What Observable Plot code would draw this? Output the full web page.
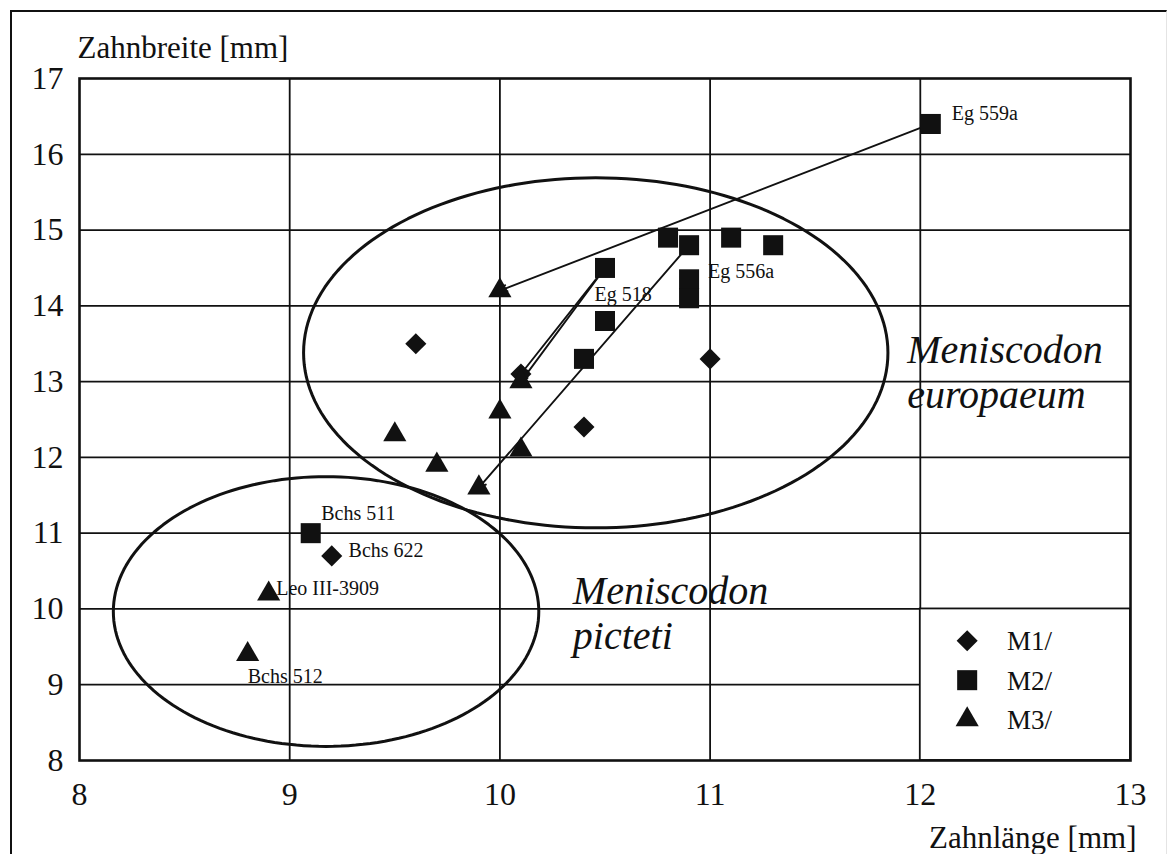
<!DOCTYPE html>
<html>
<head>
<meta charset="utf-8">
<script src="https://cdn.jsdelivr.net/npm/d3@7"></script>
<script src="https://cdn.jsdelivr.net/npm/@observablehq/plot@0.6"></script>
<style>
  html, body { margin: 0; padding: 0; background: #fff; }
  #wrap { position: relative; width: 1168px; height: 854px; overflow: hidden; }
  #border { position: absolute; left: 10px; top: 10px; width: 1154px; height: 900px;
            border-left: 2px solid #111; border-top: 2px solid #111; border-right: 1px solid #e4e4e4; }
  svg { font-family: "Liberation Serif", "Times New Roman", serif; }
</style>
</head>
<body>
<div id="wrap"><div id="border"></div></div>
<script>
// ---- Data ----
const xTicks = [8, 9, 10, 11, 12, 13];
const yTicks = [8, 9, 10, 11, 12, 13, 14, 15, 16, 17];

// Zahnlänge, Zahnbreite [mm]
const m1 = [[9.6, 13.5], [10.1, 13.1], [10.4, 12.4], [11.0, 13.3], [9.2, 10.7]];
const m2 = [[10.8, 14.9], [10.9, 14.8], [11.1, 14.9], [11.3, 14.8], [10.5, 14.5],
            [10.5, 13.8], [10.4, 13.3], [10.9, 14.35], [10.9, 14.1], [12.05, 16.4], [9.1, 11.0]];
const m3 = [[10.0, 14.2], [10.1, 13.0], [10.0, 12.6], [9.5, 12.3], [9.7, 11.9],
            [10.1, 12.1], [9.9, 11.6], [8.9, 10.2], [8.8, 9.4]];

// connecting lines (same specimen): from [x1,y1] to [x2,y2]
const links = [
  [12.05, 16.4, 10.0, 14.2],
  [10.5, 14.5, 10.1, 13.1],
  [10.5, 14.5, 10.1, 13.0],
  [10.9, 14.8, 9.9, 11.6]
];

// specimen labels: text, x, y (baseline, data units)
const specimenLabels = [
  ["Eg 559a", 12.15, 16.45],
  ["Eg 556a", 10.99, 14.37],
  ["Eg 518", 10.45, 14.07],
  ["Bchs 511", 9.15, 11.18],
  ["Bchs 622", 9.28, 10.69],
  ["Leo III-3909", 8.936, 10.18],
  ["Bchs 512", 8.80, 9.02]
];

// species groups: ellipse centre / radii (data units) and italic label
const ellipses = [
  {cx: 10.456, cy: 13.38, rx: 1.39, ry: 2.31},
  {cx: 9.173, cy: 9.966, rx: 1.012, ry: 1.78}
];
const speciesLabels = [
  ["Meniscodon\neuropaeum", 11.938, 12.657],
  ["Meniscodon\npicteti", 10.347, 9.478]
];

const legendNames = ["M1/", "M2/", "M3/"];
const legendSymbols = ["diamond2", "square", "triangle"];
const legendR = [9.5, 11.3, 8.6];

// ---- Build ----
const toPts = (arr) => arr.map(([x, y]) => ({x, y}));
const ellipsePts = ellipses.flatMap((e, i) =>
  d3.range(0, 361, 2).map(a => ({
    id: i,
    x: e.cx + e.rx * Math.cos(a * Math.PI / 180),
    y: e.cy + e.ry * Math.sin(a * Math.PI / 180)
  })));
const linkRows = links.map(([x1, y1, x2, y2]) => ({x1, y1, x2, y2}));
const legendRows = legendNames.map((n, i) => ({name: n, sym: legendSymbols[i], r: legendR[i], i}));
const legX = 12.223, legTextX = 12.413;
const legY = (i) => 9.58 - i * 0.52;

const chart = Plot.plot({
  width: 1168,
  height: 854,
  marginLeft: 79,
  marginRight: 38,
  marginTop: 78,
  marginBottom: 94,
  style: {fontFamily: "'Liberation Serif', 'Times New Roman', serif", background: "transparent", overflow: "visible"},
  x: {domain: [8, 13]},
  y: {domain: [8, 17]},
  symbol: {type: "identity"},
  r: {type: "identity"},
  marks: [
    Plot.gridX([9, 10, 11, 12], {stroke: "#111", strokeOpacity: 1, strokeWidth: 1.8}),
    Plot.gridY([9, 10, 11, 12, 13, 14, 15, 16], {stroke: "#111", strokeOpacity: 1, strokeWidth: 1.8}),
    // legend box
    Plot.rect([{x1: 12, x2: 13, y1: 8, y2: 10}], {x1: "x1", x2: "x2", y1: "y1", y2: "y2", fill: "white", stroke: "#111", strokeWidth: 1.8}),
    Plot.line(ellipsePts, {x: "x", y: "y", z: "id", stroke: "#111", strokeWidth: 3, curve: "linear"}),
    Plot.arrow(linkRows, {x1: "x1", y1: "y1", x2: "x2", y2: "y2", stroke: "#111", strokeWidth: 1.9, headLength: 6, headAngle: 50, insetEnd: 0}),
    Plot.dot(toPts(m1), {x: "x", y: "y", symbol: "diamond2", r: 9.5, fill: "#111", stroke: "none"}),
    Plot.dot(toPts(m2), {x: "x", y: "y", symbol: "square", r: 11.3, fill: "#111", stroke: "none"}),
    Plot.dot(toPts(m3), {x: "x", y: "y", symbol: "triangle", r: 8.6, fill: "#111", stroke: "none"}),
    Plot.text(specimenLabels, {x: d => d[1], y: d => d[2], text: d => d[0], textAnchor: "start", lineAnchor: "bottom", fontSize: 20, fill: "#111"}),
    Plot.text(speciesLabels, {x: d => d[1], y: d => d[2], text: d => d[0], textAnchor: "start", lineAnchor: "bottom", fontSize: 40, fontStyle: "italic", lineHeight: 1.125, fill: "#111"}),
    // legend
    Plot.dot(legendRows, {x: () => legX, y: d => legY(d.i), symbol: "sym", r: "r", fill: "#111", stroke: "none"}),
    Plot.text(legendRows, {x: () => legTextX, y: d => legY(d.i), text: "name", textAnchor: "start", fontSize: 27, dy: 1, fill: "#111"}),
    Plot.frame({stroke: "#111", strokeWidth: 2.6}),
    Plot.axisX(xTicks, {tickSize: 0, tickPadding: 22, fontSize: 32, label: null, tickFormat: d => String(d), fill: "#111"}),
    Plot.axisY(yTicks, {tickSize: 0, tickPadding: 16, fontSize: 32, label: null, tickFormat: d => String(d), fill: "#111"}),
    Plot.text(["Zahnbreite [mm]"], {frameAnchor: "top-left", text: d => d, textAnchor: "start", lineAnchor: "bottom", dx: -2, dy: -21, fontSize: 31, fill: "#111"}),
    Plot.text(["Zahnlänge [mm]"], {frameAnchor: "bottom-right", text: d => d, textAnchor: "end", lineAnchor: "bottom", dx: 6, dy: 87, fontSize: 31, fill: "#111"})
  ]
});
document.getElementById("wrap").insertBefore(chart, document.getElementById("border"));
</script>
</body>
</html>
